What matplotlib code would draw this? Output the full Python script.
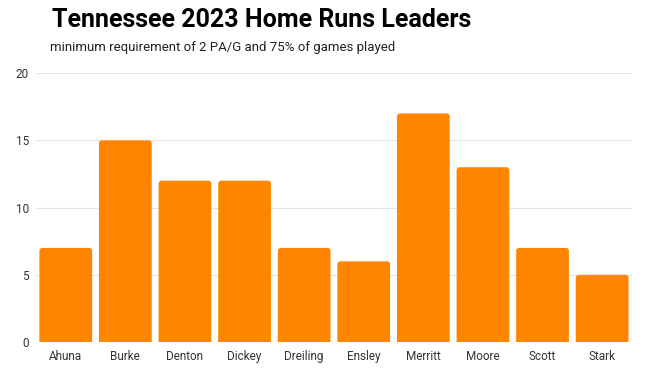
import matplotlib.pyplot as plt
from matplotlib.patches import FancyBboxPatch

# Data
players = ['Ahuna', 'Burke', 'Denton', 'Dickey', 'Dreiling', 'Ensley',
           'Merritt', 'Moore', 'Scott', 'Stark']
home_runs = [7, 15, 12, 12, 7, 6, 17, 13, 7, 5]
y_ticks = [0, 5, 10, 15, 20]

orange = '#FF8500'
plt.rcParams['font.family'] = ['Roboto', 'DejaVu Sans']

fig = plt.figure(figsize=(6.6, 3.71), dpi=100)
ax = fig.add_axes([0.0545, 0.078, 0.903, 0.725])

bars = ax.bar(range(len(players)), home_runs, width=0.885, color=orange, linewidth=0)

# swap plain bars for ones with slightly rounded corners
aspect = 59.6 / 13.45
for b in bars:
    x, w, h = b.get_x(), b.get_width(), b.get_height()
    b.set_visible(False)
    p = FancyBboxPatch((x, -1), w, h + 1, boxstyle='round,pad=0,rounding_size=0.05',
                       mutation_aspect=aspect, facecolor=orange, edgecolor='none', zorder=3)
    ax.add_patch(p)

ax.set_xlim(-0.5, len(players) - 0.5)
ax.set_ylim(0, 20)
ax.set_yticks(y_ticks)
ax.set_xticks(range(len(players)))
ax.set_xticklabels(players)
ax.tick_params(length=0, labelsize=8.5, colors='#333333')
ax.tick_params(axis='y', pad=5)
ax.tick_params(axis='x', pad=6)
ax.yaxis.grid(True, color='#e3e3e3', linewidth=0.8)
ax.set_axisbelow(True)
for s in ax.spines.values():
    s.set_visible(False)

fig.text(0.079, 0.947, 'Tennessee 2023 Home Runs Leaders', fontsize=18,
         fontweight='bold', ha='left', va='center', color='black')
fig.text(0.076, 0.873, 'minimum requirement of 2 PA/G and 75% of games played',
         fontsize=9.5, ha='left', va='center', color='#222222')

fig.savefig('out.png', dpi=100)
